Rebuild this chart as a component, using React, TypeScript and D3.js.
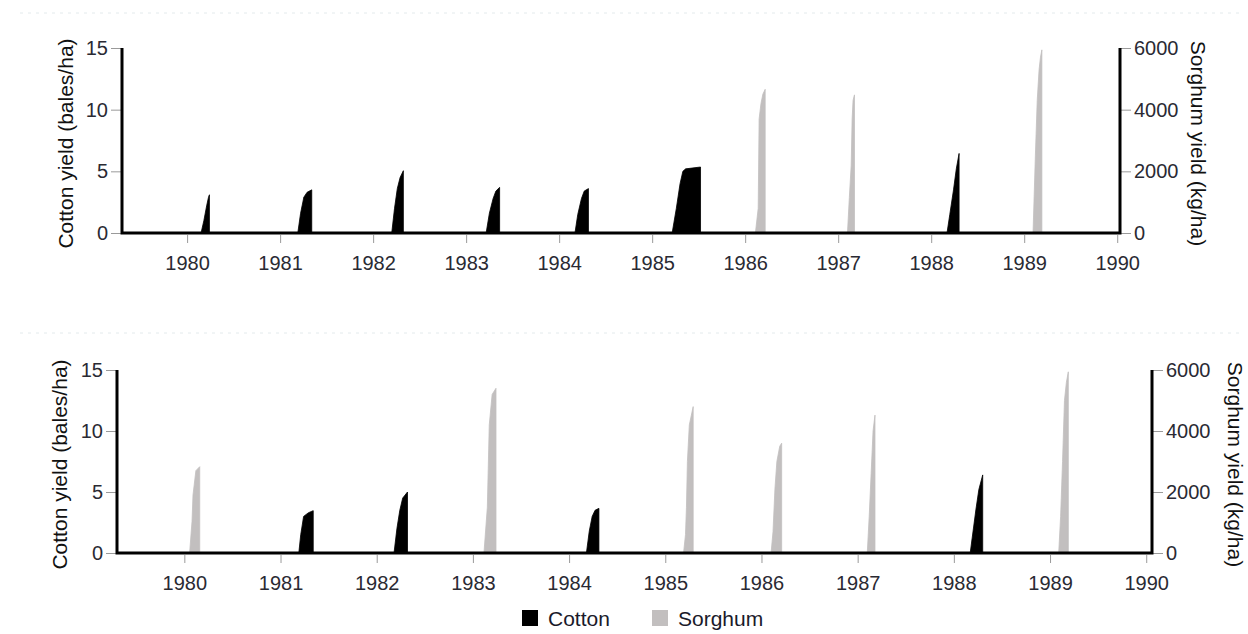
import React, { useRef, useEffect } from 'react';
import * as d3 from 'd3';

type Pt = [number, number]; // [fractional year, yield]

// x axis years and y tick values
const YEARS = d3.range(1980, 1991);
const COTTON_TICKS = [0, 5, 10, 15];
const SORGHUM_TICKS = [0, 2000, 4000, 6000];

// top panel: cotton (bales/ha) seasons
const TOP_COTTON: Pt[][] = [
  [[1980.15, 0], [1980.18, 1.0], [1980.21, 2.2], [1980.23, 2.9], [1980.24, 3.1]],
  [[1981.19, 0], [1981.22, 1.6], [1981.255, 2.9], [1981.29, 3.3], [1981.34, 3.5]],
  [[1982.2, 0], [1982.23, 2.0], [1982.26, 3.6], [1982.29, 4.5], [1982.325, 5.05]],
  [[1983.215, 0], [1983.25, 1.6], [1983.29, 2.8], [1983.32, 3.4], [1983.36, 3.7]],
  [[1984.17, 0], [1984.2, 1.5], [1984.24, 2.8], [1984.27, 3.4], [1984.315, 3.6]],
  [[1985.215, 0], [1985.26, 2.0], [1985.3, 4.0], [1985.33, 5.0], [1985.36, 5.2], [1985.52, 5.35]],
  [[1988.17, 0], [1988.2, 1.5], [1988.24, 3.5], [1988.27, 5.2], [1988.3, 6.45]],
];

// top panel: sorghum (kg/ha) seasons
const TOP_SORGHUM: Pt[][] = [
  [[1986.11, 0], [1986.14, 800], [1986.15, 3700], [1986.17, 4200], [1986.19, 4500], [1986.215, 4660]],
  [[1987.1, 0], [1987.12, 1150], [1987.14, 2200], [1987.15, 3700], [1987.16, 4300], [1987.175, 4480]],
  [[1989.095, 0], [1989.12, 2500], [1989.14, 4300], [1989.16, 5300], [1989.175, 5700], [1989.19, 5940]],
];

// bottom panel: cotton (bales/ha) seasons
const BOTTOM_COTTON: Pt[][] = [
  [[1981.19, 0], [1981.21, 1.5], [1981.24, 3.0], [1981.29, 3.3], [1981.34, 3.47]],
  [[1982.18, 0], [1982.21, 2.0], [1982.24, 3.5], [1982.27, 4.5], [1982.32, 5.0]],
  [[1984.18, 0], [1984.21, 1.8], [1984.24, 3.0], [1984.27, 3.5], [1984.31, 3.66]],
  [[1988.17, 0], [1988.2, 1.8], [1988.23, 3.6], [1988.26, 5.2], [1988.3, 6.4]],
];

// bottom panel: sorghum (kg/ha) seasons
const BOTTOM_SORGHUM: Pt[][] = [
  [[1980.055, 0], [1980.08, 1040], [1980.09, 1900], [1980.12, 2700], [1980.16, 2830]],
  [[1983.115, 0], [1983.15, 1500], [1983.17, 4200], [1983.2, 5200], [1983.24, 5400]],
  [[1985.19, 0], [1985.21, 600], [1985.22, 1500], [1985.23, 3000], [1985.25, 4200], [1985.29, 4800]],
  [[1986.1, 0], [1986.12, 700], [1986.14, 2100], [1986.16, 3000], [1986.19, 3500], [1986.21, 3600]],
  [[1987.1, 0], [1987.12, 1200], [1987.14, 2600], [1987.16, 4000], [1987.18, 4520]],
  [[1989.09, 0], [1989.11, 1200], [1989.13, 3000], [1989.15, 5000], [1989.17, 5600], [1989.19, 5940]],
];

const COTTON_COLOR = '#000000';
const SORGHUM_COLOR = '#c2bfbf';
const FONT = '"Liberation Sans", Arial, sans-serif';

interface Panel {
  left: number;
  right: number;
  top: number;
  base: number;
  domain: [number, number];
  cotton: Pt[][];
  sorghum: Pt[][];
  leftTitleX: number;
  rightTitleX: number;
  lineY: number;
}

const PANELS: Panel[] = [
  {
    left: 122, right: 1120, top: 48, base: 233, domain: [1979.3, 1990.03],
    cotton: TOP_COTTON, sorghum: TOP_SORGHUM, leftTitleX: 65, rightTitleX: 1198, lineY: 13,
  },
  {
    left: 117, right: 1152, top: 370, base: 553, domain: [1979.3, 1990.06],
    cotton: BOTTOM_COTTON, sorghum: BOTTOM_SORGHUM, leftTitleX: 59, rightTitleX: 1235, lineY: 333,
  },
];

const App: React.FC = () => {
  const svgRef = useRef<SVGSVGElement>(null);

  useEffect(() => {
    if (!svgRef.current) return;
    const svg = d3.select(svgRef.current);
    svg.selectAll('*').remove();

    PANELS.forEach((p) => {
      const g = svg.append('g');

      // faint panel separator
      g.append('line')
        .attr('x1', 20).attr('x2', 1240)
        .attr('y1', p.lineY).attr('y2', p.lineY)
        .attr('stroke', '#e3eaec')
        .attr('stroke-dasharray', '3,5');

      const x = d3.scaleLinear().domain(p.domain).range([p.left, p.right]);
      const yC = d3.scaleLinear().domain([0, 15]).range([p.base, p.top]);
      const yS = d3.scaleLinear().domain([0, 6000]).range([p.base, p.top]);

      const drawSeasons = (seasons: Pt[][], y: d3.ScaleLinear<number, number>, color: string) => {
        const area = d3.area<Pt>()
          .x((d) => x(d[0]))
          .y0(y(0))
          .y1((d) => y(d[1]));
        g.selectAll(null)
          .data(seasons)
          .enter()
          .append('path')
          .attr('d', (s) => area([...s, [s[s.length - 1][0], 0]]))
          .attr('fill', color)
          .attr('stroke', color)
          .attr('stroke-width', 0.8);
      };
      drawSeasons(p.sorghum, yS, SORGHUM_COLOR);
      drawSeasons(p.cotton, yC, COTTON_COLOR);

      // x axis
      const xAxis = g.append('g')
        .attr('transform', `translate(0, ${p.base + 2})`)
        .call(
          d3.axisBottom(x)
            .tickValues(YEARS)
            .tickSize(8)
            .tickPadding(13)
            .tickFormat(d3.format('d'))
        );
      // left axis
      const lAxis = g.append('g')
        .attr('transform', `translate(${p.left - 1}, 0)`)
        .call(d3.axisLeft(yC).tickValues(COTTON_TICKS).tickSize(10).tickPadding(3).tickFormat(d3.format('d')));
      // right axis
      const rAxis = g.append('g')
        .attr('transform', `translate(${p.right + 1}, 0)`)
        .call(d3.axisRight(yS).tickValues(SORGHUM_TICKS).tickSize(10).tickPadding(3).tickFormat(d3.format('d')));

      [xAxis, lAxis, rAxis].forEach((a) => {
        a.select('.domain').remove();
        a.selectAll('.tick line').attr('stroke', '#9a9a9a');
        a.selectAll('.tick text')
          .attr('fill', '#2a2a33')
          .style('font-family', FONT)
          .style('font-size', '20px');
      });

      // heavy axis lines
      g.append('path')
        .attr('d', `M${p.left},${yC(15)}V${yC(0)}H${p.right}V${yS(6000)}`)
        .attr('fill', 'none')
        .attr('stroke', '#000')
        .attr('stroke-width', 3);

      // axis titles
      const midY = (p.top + p.base) / 2 + 3;
      g.append('text')
        .attr('transform', `translate(${p.leftTitleX}, ${midY}) rotate(-90)`)
        .attr('text-anchor', 'middle')
        .attr('dominant-baseline', 'central')
        .style('font-family', FONT)
        .style('font-size', '21px')
        .attr('fill', '#111')
        .text('Cotton yield (bales/ha)');
      g.append('text')
        .attr('transform', `translate(${p.rightTitleX}, ${midY}) rotate(90)`)
        .attr('text-anchor', 'middle')
        .attr('dominant-baseline', 'central')
        .style('font-family', FONT)
        .style('font-size', '21px')
        .attr('fill', '#111')
        .text('Sorghum yield (kg/ha)');
    });

    // legend
    const legend = svg.append('g').attr('transform', 'translate(522, 610)');
    const items = [
      { label: 'Cotton', color: COTTON_COLOR, dx: 0 },
      { label: 'Sorghum', color: SORGHUM_COLOR, dx: 130 },
    ];
    items.forEach((it) => {
      legend.append('rect')
        .attr('x', it.dx).attr('y', 0)
        .attr('width', 16).attr('height', 16)
        .attr('fill', it.color);
      legend.append('text')
        .attr('x', it.dx + 26).attr('y', 8)
        .attr('dominant-baseline', 'central')
        .style('font-family', FONT)
        .style('font-size', '21px')
        .attr('fill', '#1a1a2a')
        .text(it.label);
    });
  }, []);

  return (
    <svg
      ref={svgRef}
      width={1248}
      height={634}
      style={{ position: 'absolute', left: 0, top: 0, background: '#fff' }}
    />
  );
};

export default App;
